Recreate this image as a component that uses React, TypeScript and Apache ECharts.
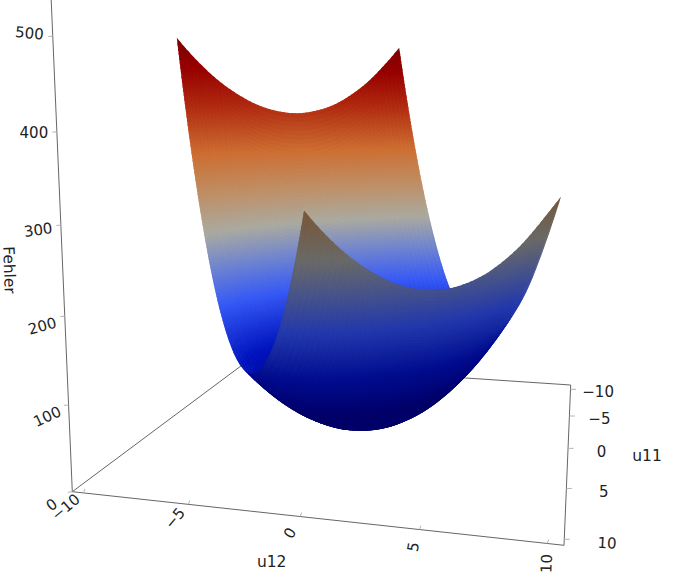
import React, { useEffect, useRef } from "react";
import * as echarts from "echarts";

// ---------- data ----------
const u12Ticks = [-10, -5, 0, 5, 10];
const u11Ticks = [-10, -5, 0, 5, 10];
const zTicks = [0, 100, 200, 300, 400, 500];

// The surface covers a rotated square of the (u12, u11) floor: its four corners
const cornerBackLeft = [-9.8, 0];
const cornerBackRight = [0.1, -10];
const cornerFrontLeft = [0.15, 10];
const cornerFrontRight = [10, 0];

// Fehler on a 13 x 13 mesh: rows run from the back rim to the front rim
const fehler = [
  [518, 487, 462, 443, 429, 421, 418, 421, 429, 443, 462, 487, 516],
  [411, 380, 355, 336, 322, 314, 311, 314, 322, 336, 355, 380, 411],
  [321, 290, 265, 246, 232, 224, 221, 224, 232, 246, 265, 290, 321],
  [247, 216, 191, 172, 158, 150, 147, 150, 158, 172, 191, 216, 247],
  [189, 158, 133, 114, 100, 92, 89, 92, 100, 114, 133, 158, 189],
  [148, 117, 92, 73, 59, 51, 48, 51, 59, 73, 92, 117, 148],
  [123, 92, 67, 48, 34, 26, 23, 26, 34, 48, 67, 92, 123],
  [115, 84, 59, 40, 26, 18, 15, 18, 26, 40, 59, 84, 115],
  [123, 92, 67, 48, 34, 26, 23, 26, 34, 48, 67, 92, 123],
  [148, 117, 92, 73, 59, 51, 48, 51, 59, 73, 92, 117, 148],
  [188, 157, 132, 113, 99, 91, 88, 91, 99, 113, 132, 157, 188],
  [246, 215, 190, 171, 157, 149, 146, 149, 157, 171, 190, 215, 246],
  [320, 289, 264, 245, 231, 223, 220, 223, 231, 245, 264, 289, 316],
];

// Colour scale over Fehler
const colorLevels = [0, 60, 115, 178, 225, 265, 310, 365, 430, 480, 520];
const colorValues = [
  [0, 0, 125], [0, 0, 135], [0, 20, 190], [55, 90, 245], [115, 135, 205],
  [170, 170, 160], [190, 145, 105], [205, 110, 50], [175, 40, 15], [150, 0, 0], [125, 0, 0],
];

// ---------- view (layout, not data) ----------
const W = 685;
const H = 573;
const U0 = -10.55, U1 = 10.63; // box extent along u12
const V0 = 10.51, V1 = -10.9; // box extent along u11 (front, back)
const A = [72.3, 491.7], wA = 1;
const B = [564, 545.3], wB = 0.87;
const C = [570.7, 385], wC = 1.38;
const VAN = [382, 7710], K = 1.1875e-4; // vertical vanishing point and its strength
const Z_TOP = 539;
const REFINE_S = 5, REFINE_Q = 18;
const OVERLAP = 0.6;
const AXIS = "#666666";
const TICK = "#b5b5b5";
const TEXT = "#222222";
const FONT = '15px "DejaVu Sans", sans-serif';
const TITLE_FONT = '15.5px "DejaVu Sans", sans-serif';

const Ah = [A[0] * wA, A[1] * wA, wA];
const Bh = [B[0] * wB, B[1] * wB, wB];
const Ch = [C[0] * wC, C[1] * wC, wC];
const Dh = [Ah[0] + Ch[0] - Bh[0], Ah[1] + Ch[1] - Bh[1], Ah[2] + Ch[2] - Bh[2]];

function project(u12: number, u11: number, z: number): number[] {
  const u = (u12 - U0) / (U1 - U0);
  const v = (V0 - u11) / (V0 - V1);
  const m = z * K;
  const px = Ah[0] + u * (Bh[0] - Ah[0]) + v * (Dh[0] - Ah[0]) - m * VAN[0];
  const py = Ah[1] + u * (Bh[1] - Ah[1]) + v * (Dh[1] - Ah[1]) - m * VAN[1];
  const pw = Ah[2] + u * (Bh[2] - Ah[2]) + v * (Dh[2] - Ah[2]) - m;
  return [px / pw, py / pw];
}

function scaleColor(z: number): number[] {
  const n = colorLevels.length;
  if (z <= colorLevels[0]) return colorValues[0];
  if (z >= colorLevels[n - 1]) return colorValues[n - 1];
  let i = 0;
  while (z > colorLevels[i + 1]) i++;
  const t = (z - colorLevels[i]) / (colorLevels[i + 1] - colorLevels[i]);
  return colorValues[i].map((c, k) => c + (colorValues[i + 1][k] - c) * t);
}

function rgb(c: number[]): string {
  return `rgb(${Math.round(c[0])},${Math.round(c[1])},${Math.round(c[2])})`;
}

function meshZ(j: number, i: number): number {
  const nj = fehler.length - 1;
  const ni = fehler[0].length - 1;
  if (j < 0) return 3 * meshZ(0, i) - 3 * meshZ(1, i) + meshZ(2, i);
  if (j > nj) return 3 * meshZ(nj, i) - 3 * meshZ(nj - 1, i) + meshZ(nj - 2, i);
  if (i < 0) return 3 * fehler[j][0] - 3 * fehler[j][1] + fehler[j][2];
  if (i > ni) return 3 * fehler[j][ni] - 3 * fehler[j][ni - 1] + fehler[j][ni - 2];
  return fehler[j][i];
}

function spline(a: number, b: number, c: number, d: number, t: number): number {
  return 0.5 * (2 * b + (c - a) * t + (2 * a - 5 * b + 4 * c - d) * t * t + (3 * b - a - 3 * c + d) * t * t * t);
}

function surfaceZ(j: number, i: number, fq: number, fs: number): number {
  const row = [-1, 0, 1, 2].map((d) =>
    spline(meshZ(j + d, i - 1), meshZ(j + d, i), meshZ(j + d, i + 1), meshZ(j + d, i + 2), fs)
  );
  return spline(row[0], row[1], row[2], row[3], fq);
}

function surfacePoint(j: number, i: number, fq: number, fs: number): { p: number[]; z: number } {
  const nq = fehler.length - 1;
  const ns = fehler[0].length - 1;
  const q = (j + fq) / nq;
  const s = (i + fs) / ns;
  const a = (1 - s) * (1 - q), b = s * (1 - q), c = (1 - s) * q, d = s * q;
  const u12 = a * cornerBackLeft[0] + b * cornerBackRight[0] + c * cornerFrontLeft[0] + d * cornerFrontRight[0];
  const u11 = a * cornerBackLeft[1] + b * cornerBackRight[1] + c * cornerFrontLeft[1] + d * cornerFrontRight[1];
  const z = surfaceZ(j, i, fq, fs);
  return { p: project(u12, u11, z), z };
}

function renderCell(_params: any, api: any) {
  const j = api.value(0);
  const i = api.value(1);
  const lastRow = j === fehler.length - 2;
  const firstCol = i === 0;
  const children: any[] = [];
  for (let a = 0; a < REFINE_Q; a++) {
    for (let b = REFINE_S - 1; b >= 0; b--) {
      const q0 = a / REFINE_Q;
      const q1 = (a + 1) / REFINE_Q;
      const s0 = b / REFINE_S;
      const s1 = (b + 1) / REFINE_S;
      const p00 = surfacePoint(j, i, q0, s0);
      const p01 = surfacePoint(j, i, q0, s1);
      const p11 = surfacePoint(j, i, q1, s1);
      const p10 = surfacePoint(j, i, q1, s0);
      const z = (p00.z + p01.z + p11.z + p10.z) / 4;
      const dsx = p01.p[0] - p00.p[0], dsy = p01.p[1] - p00.p[1];
      const dqx = p10.p[0] - p00.p[0], dqy = p10.p[1] - p00.p[1];
      const under = dsx * dqy - dsy * dqx < 0;
      let col = scaleColor(z);
      if (under) {
        const blue = 0.62 + 0.2 * Math.max(0, 1 - z / 300);
        col = [col[0] * 0.62, col[1] * 0.62, col[2] * blue];
      }
      // each facet runs on under the facets painted after it, so no seams show
      const qe = lastRow && a === REFINE_Q - 1 ? q1 : q1 + OVERLAP / REFINE_Q;
      const se = firstCol && b === 0 ? s0 : s0 - OVERLAP / REFINE_S;
      children.push({
        type: "polygon",
        shape: {
          points: [
            surfacePoint(j, i, q0, se).p,
            p01.p,
            surfacePoint(j, i, qe, s1).p,
            surfacePoint(j, i, qe, se).p,
          ],
        },
        style: { fill: rgb(col) },
        silent: true,
      });
    }
  }
  return { type: "group", children };
}

const seg = (a: number[], b: number[], stroke: string, lineWidth: number) => ({
  type: "line",
  shape: { x1: a[0], y1: a[1], x2: b[0], y2: b[1] },
  style: { stroke, lineWidth },
  silent: true,
});

const label = (text: string, x: number, y: number, deg: number, font: string) => ({
  type: "text",
  x,
  y,
  rotation: (deg * Math.PI) / 180,
  style: { text, x: 0, y: 0, align: "center", verticalAlign: "middle", font, fill: TEXT },
  silent: true,
});

const fmt = (v: number) => (v < 0 ? "\u2212" + Math.abs(v) : String(v));

// label offset from the tick [dx, dy, rotation]
const zLabelPlace = [[-20.6, 13.3, 35], [-21.3, 11.7, 25], [-22.4, 10, 15], [-22.7, 5, 8], [-23, 1, 0], [-23.4, -2.7, -5]];
const u12LabelPlace = [[-17.6, 14.3, 40], [-13.3, 14, 50], [-10, 16.7, 60], [-6, 17.3, 80], [-0.6, 20, 88]];
const u11LabelPlace = [[27.6, 3, 0], [30, 2.6, 0], [33.4, 3.4, 0], [37.3, 4, 0], [42.7, 4, -3]];

function renderFloor() {
  const a = project(U0, V0, 0), b = project(U1, V0, 0), c = project(U1, V1, 0), d = project(U0, V1, 0);
  return {
    type: "group",
    children: [seg(c, d, AXIS, 1), seg(d, a, AXIS, 1), seg(a, b, AXIS, 1), seg(b, c, AXIS, 1), seg(a, project(U0, V0, Z_TOP), AXIS, 1)],
  };
}

function renderZTick(_p: any, api: any) {
  const idx = api.value(0);
  const t = project(U0, V0, zTicks[idx]);
  const pl = zLabelPlace[idx];
  return { type: "group", children: [seg(t, [t[0] - 4.5, t[1] + 0.5], TICK, 1), label(fmt(zTicks[idx]), t[0] + pl[0], t[1] + pl[1], pl[2], FONT)] };
}

function renderU12Tick(_p: any, api: any) {
  const idx = api.value(0);
  const t = project(u12Ticks[idx], V0, 0);
  const pl = u12LabelPlace[idx];
  return { type: "group", children: [seg(t, [t[0] + 1.5, t[1] - 4], TICK, 1), label(fmt(u12Ticks[idx]), t[0] + pl[0], t[1] + pl[1], pl[2], FONT)] };
}

function renderU11Tick(_p: any, api: any) {
  const idx = api.value(0);
  const t = project(U1, u11Ticks[idx], 0);
  const pl = u11LabelPlace[idx];
  return { type: "group", children: [seg(t, [t[0] + 5.5, t[1]], TICK, 1), label(fmt(u11Ticks[idx]), t[0] + pl[0], t[1] + pl[1], pl[2], FONT)] };
}

function buildOption() {
  const cells: number[][] = [];
  for (let j = 0; j < fehler.length - 1; j++) {
    for (let i = fehler[0].length - 2; i >= 0; i--) cells.push([j, i]);
  }
  const custom = (name: string, data: any[], renderItem: any, z: number) => ({
    type: "custom",
    name,
    coordinateSystem: "none",
    silent: true,
    z,
    data,
    renderItem,
  });
  return {
    animation: false,
    backgroundColor: "#ffffff",
    series: [
      custom("box", [[0]], renderFloor, 1),
      custom("Fehler", zTicks.map((_, i) => [i]), renderZTick, 2),
      custom("u12", u12Ticks.map((_, i) => [i]), renderU12Tick, 2),
      custom("u11", u11Ticks.map((_, i) => [i]), renderU11Tick, 2),
      custom("surface", cells, renderCell, 3),
    ],
    graphic: [
      label("u12", 271.7, 561.5, 0, TITLE_FONT),
      label("u11", 647, 456, 0, TITLE_FONT),
      label("Fehler", 9, 270, -88, TITLE_FONT),
    ],
  };
}

export default function App() {
  const ref = useRef<HTMLDivElement>(null);
  useEffect(() => {
    document.body.style.margin = "0";
    const chart = echarts.init(ref.current!, undefined, { renderer: "svg" });
    chart.setOption(buildOption() as any);
    return () => chart.dispose();
  }, []);
  return <div ref={ref} style={{ width: W, height: H }} />;
}
